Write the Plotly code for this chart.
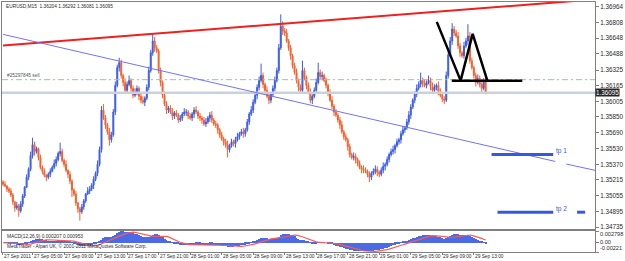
import plotly.graph_objects as go
import pandas as pd

# ---------------- data (prices in pips above 1.3000, 1 pip = 0.0001) ----------------
close_pips = [
    517, 515, 512, 510, 506, 499, 493, 495, 490, 497,
    505, 514, 524, 532, 546, 557, 550, 553, 544, 534,
    530, 526, 524, 527, 530, 534, 538, 542, 548, 550,
    541, 537, 531, 527, 520, 511, 507, 498, 492, 489,
    494, 500, 507, 510, 512, 516, 522, 528, 537, 552,
    592, 584, 577, 570, 562, 567, 590, 617, 635, 640,
    627, 620, 612, 618, 622, 614, 607, 610, 614, 606,
    602, 600, 604, 615, 632, 650, 662, 655, 652, 632,
    620, 607, 598, 592, 594, 590, 586, 589, 587, 582,
    584, 588, 590, 590, 586, 584, 588, 592, 590, 586,
    584, 582, 578, 580, 584, 587, 582, 578, 577, 572,
    567, 563, 560, 557, 552, 556, 560, 558, 562, 565,
    568, 570, 568, 572, 580, 588, 592, 600, 607, 615,
    622, 627, 618, 612, 606, 602, 608, 614, 622, 632,
    655, 677, 672, 670, 662, 655, 647, 637, 630, 622,
    615, 612, 632, 625, 617, 610, 602, 606, 612, 620,
    630, 626, 627, 622, 617, 610, 602, 596, 590, 587,
    582, 577, 570, 565, 562, 555, 547, 544, 545, 542,
    538, 534, 532, 531, 530, 527, 524, 528, 530, 532,
    529, 527, 531, 535, 537, 542, 547, 550, 552, 556,
    560, 562, 568, 572, 574, 580, 587, 595, 602, 608,
    614, 618, 622, 619, 617, 620, 622, 616, 612, 615,
    617, 611, 607, 603, 602, 627, 648, 662, 674, 670,
    667, 657, 650, 647, 657, 662, 667, 642, 635, 627,
    620, 624, 618, 614, 620.4, 609.5,
]
open_pips = [
    519, 517, 515, 512, 510, 506, 499, 493, 495, 490,
    497, 505, 514, 524, 532, 546, 557, 550, 553, 544,
    534, 530, 526, 524, 527, 530, 534, 538, 542, 548,
    550, 541, 537, 531, 527, 520, 511, 507, 498, 492,
    489, 494, 500, 507, 510, 512, 516, 522, 528, 537,
    552, 592, 584, 577, 570, 562, 567, 590, 617, 635,
    640, 627, 620, 612, 618, 622, 614, 607, 610, 614,
    606, 602, 600, 604, 615, 632, 650, 662, 655, 652,
    632, 620, 607, 598, 592, 594, 590, 586, 589, 587,
    582, 584, 588, 590, 590, 586, 584, 588, 592, 590,
    586, 584, 582, 578, 580, 584, 587, 582, 578, 577,
    572, 567, 563, 560, 557, 552, 556, 560, 558, 562,
    565, 568, 570, 568, 572, 580, 588, 592, 600, 607,
    615, 622, 627, 618, 612, 606, 602, 608, 614, 622,
    632, 655, 677, 672, 670, 662, 655, 647, 637, 630,
    622, 615, 612, 632, 625, 617, 610, 602, 606, 612,
    620, 630, 626, 627, 622, 617, 610, 602, 596, 590,
    587, 582, 577, 570, 565, 562, 555, 547, 544, 545,
    542, 538, 534, 532, 531, 530, 527, 524, 528, 530,
    532, 529, 527, 531, 535, 537, 542, 547, 550, 552,
    556, 560, 562, 568, 572, 574, 580, 587, 595, 602,
    608, 614, 618, 622, 619, 617, 620, 622, 616, 612,
    615, 617, 611, 607, 603, 602, 627, 648, 662, 674,
    670, 667, 657, 650, 647, 657, 662, 667, 642, 635,
    627, 620, 624, 618, 614, 620.4,
]
upper_wick_pips = [
    2, 3, 1, 2, 3, 2, 1, 4, 2, 3,
    2, 1, 3, 2, 4, 7, 3, 2, 1, 3,
    2, 3, 1, 2, 3, 2, 4, 3, 2, 9,
    3, 2, 4, 1, 3, 2, 2, 3, 1, 2,
    3, 2, 1, 4, 3, 2, 3, 2, 4, 3,
    4, 6, 3, 2, 4, 3, 3, 4, 3, 5,
    3, 2, 4, 3, 5, 2, 3, 4, 3, 2,
    3, 4, 2, 3, 4, 3, 7, 4, 3, 2,
    3, 2, 4, 3, 2, 3, 4, 2, 3, 2,
    3, 2, 4, 3, 2, 3, 2, 3, 4, 2,
    3, 2, 3, 4, 2, 3, 4, 2, 3, 2,
    2, 3, 2, 3, 4, 2, 3, 2, 3, 4,
    2, 3, 4, 2, 3, 2, 4, 3, 2, 3,
    4, 12, 3, 2, 4, 3, 2, 3, 4, 3,
    4, 12, 5, 3, 4, 2, 3, 2, 3, 4,
    2, 3, 10, 3, 2, 3, 4, 2, 3, 4,
    10, 3, 4, 2, 3, 2, 3, 4, 2, 3,
    2, 3, 4, 2, 3, 2, 3, 2, 4, 3,
    2, 3, 2, 4, 3, 2, 3, 2, 3, 4,
    3, 2, 3, 4, 2, 3, 2, 3, 4, 2,
    3, 2, 3, 4, 2, 3, 4, 3, 2, 3,
    4, 3, 8, 3, 4, 2, 5, 3, 4, 3,
    2, 4, 3, 2, 3, 4, 3, 4, 6, 3,
    3, 4, 3, 2, 4, 3, 12, 4, 3, 2,
    3, 4, 3, 2, 4, 8.8,
]
lower_wick_pips = [
    2, 1, 3, 2, 2, 3, 4, 2, 6, 2,
    3, 2, 1, 3, 2, 3, 4, 2, 3, 2,
    3, 2, 4, 2, 3, 1, 2, 3, 2, 3,
    2, 3, 2, 4, 3, 7, 2, 3, 4, 9,
    2, 3, 2, 1, 3, 2, 4, 2, 3, 2,
    3, 2, 4, 3, 6, 3, 2, 3, 2, 4,
    3, 4, 2, 3, 2, 4, 3, 2, 3, 4,
    3, 2, 4, 2, 3, 2, 3, 4, 2, 3,
    4, 3, 2, 4, 3, 2, 4, 3, 2, 3,
    2, 3, 2, 4, 3, 2, 3, 4, 2, 3,
    3, 4, 2, 3, 2, 4, 3, 2, 3, 4,
    3, 2, 4, 3, 8, 3, 2, 3, 4, 2,
    3, 2, 4, 3, 2, 3, 2, 3, 2, 4,
    3, 2, 4, 3, 2, 4, 3, 2, 3, 2,
    3, 2, 4, 3, 2, 3, 4, 3, 2, 3,
    4, 3, 2, 3, 4, 2, 3, 4, 2, 3,
    2, 3, 4, 2, 3, 4, 2, 3, 4, 2,
    3, 4, 2, 3, 2, 4, 3, 2, 3, 4,
    3, 2, 4, 3, 2, 3, 5, 3, 2, 3,
    4, 3, 2, 3, 4, 2, 3, 2, 3, 4,
    2, 3, 4, 2, 3, 2, 3, 4, 2, 3,
    3, 2, 3, 4, 2, 3, 2, 4, 3, 2,
    3, 4, 2, 3, 4, 2, 3, 2, 4, 3,
    2, 3, 4, 2, 3, 2, 4, 3, 2, 3,
    4, 2, 3, 4, 2, 1.4,
]

# axis labels
price_ticks = [1.36964, 1.36808, 1.36648, 1.36488, 1.36325, 1.36165, 1.36005, 1.35850,
               1.35690, 1.35530, 1.35370, 1.35215, 1.35055, 1.34895, 1.34735]
macd_ticks = [0.002798, 0.0, -0.00221]
macd_ticktext = ["0.002798", "0.00", "-0.00221"]
time_tick_bars = [0, 15, 31, 47, 63, 79, 95, 111, 127, 143, 159, 175, 191, 207, 223, 239]
time_tick_text = ["27 Sep 2011", "27 Sep 05:00", "27 Sep 09:00", "27 Sep 13:00", "27 Sep 17:00",
                  "27 Sep 21:00", "28 Sep 01:00", "28 Sep 05:00", "28 Sep 09:00", "28 Sep 13:00",
                  "28 Sep 17:00", "28 Sep 21:00", "29 Sep 01:00", "29 Sep 05:00", "29 Sep 09:00",
                  "29 Sep 13:00"]

# drawn objects (bar index, price)
red_trend_bars = [0, 300]
red_trend_prices = [1.36573, 1.37040]
blue_trend_bars = [0, 280.3, None, 285.9, 300.5]
blue_trend_prices = [1.36687, 1.35400, None, 1.35374, 1.35310]
black_v_bars = [220.2, 232.3, 238.4, 246.0]
black_v_prices = [1.36813, 1.36218, 1.36692, 1.36208]
black_neck_bars = [227.8, 263.6]
black_neck_prices = [1.36218, 1.36218]
tp1_bars = [248.0, 279.3]
tp1_price = 1.35471
tp2_bars = [251.0, 279.3, None, 291.4, 295.5]
tp2_price = 1.34886
order_price = 1.36228
order_label = "#25297845 sell"
bid_price = 1.36095
title_text = "EURUSD,M15  1.36204 1.36292 1.36081 1.36095"
macd_label = "MACD(12,26,9) 0.000207 0.000953"
copyright_text = "MetaTrader - Alpari UK, \u00a9 2001-2011 MetaQuotes Software Corp."

# ---------------- derived series ----------------
BASE, PIP = 1.30, 0.0001
bars = list(range(len(close_pips)))
opens = [BASE + v * PIP for v in open_pips]
closes = [BASE + v * PIP for v in close_pips]
highs = [BASE + (max(o, c) + u) * PIP for o, c, u in zip(open_pips, close_pips, upper_wick_pips)]
lows = [BASE + (min(o, c) - l) * PIP for o, c, l in zip(open_pips, close_pips, lower_wick_pips)]

s = pd.Series(closes)
macd_main = s.ewm(span=12, adjust=False).mean() - s.ewm(span=26, adjust=False).mean()
macd_signal = macd_main.rolling(9, min_periods=1).mean()

UP, DN = "#3a5ce8", "#f4612c"
FONT = "Liberation Sans"
XR = [-0.505, 300.5]
TXT = "#2a2a2a"

fig = go.Figure()
fig.add_trace(go.Candlestick(
    x=bars, open=opens, high=highs, low=lows, close=closes,
    increasing=dict(line=dict(color=UP, width=1), fillcolor=UP),
    decreasing=dict(line=dict(color=DN, width=1), fillcolor=DN),
    whiskerwidth=0, showlegend=False, hoverinfo="skip", xaxis="x", yaxis="y"))

# horizontal lines
fig.add_trace(go.Scatter(x=XR, y=[bid_price, bid_price], mode="lines",
                         line=dict(color="#c9d1df", width=2.5), showlegend=False, hoverinfo="skip"))
fig.add_trace(go.Scatter(x=XR, y=[order_price, order_price], mode="lines",
                         line=dict(color="#8fd08f", width=1, dash="6px,3px,2px,3px"),
                         showlegend=False, hoverinfo="skip"))
# trend lines
fig.add_trace(go.Scatter(x=red_trend_bars, y=red_trend_prices, mode="lines",
                         line=dict(color="#ee2020", width=2), showlegend=False, hoverinfo="skip"))
fig.add_trace(go.Scatter(x=blue_trend_bars, y=blue_trend_prices, mode="lines",
                         line=dict(color="#7474f0", width=1), showlegend=False, hoverinfo="skip"))
fig.add_trace(go.Scatter(x=black_v_bars, y=black_v_prices, mode="lines",
                         line=dict(color="#000000", width=2.5), showlegend=False, hoverinfo="skip"))
fig.add_trace(go.Scatter(x=black_neck_bars, y=black_neck_prices, mode="lines",
                         line=dict(color="#000000", width=2.5), showlegend=False, hoverinfo="skip"))
fig.add_trace(go.Scatter(x=tp1_bars, y=[tp1_price] * len(tp1_bars), mode="lines",
                         line=dict(color="#3558e0", width=3), showlegend=False, hoverinfo="skip"))
fig.add_trace(go.Scatter(x=tp2_bars, y=[tp2_price if b is not None else None for b in tp2_bars],
                         mode="lines", line=dict(color="#3558e0", width=3), showlegend=False,
                         hoverinfo="skip"))

# MACD panel
fig.add_trace(go.Bar(x=bars, y=macd_main, width=0.55, marker=dict(color="#4a6ae6", line=dict(width=0)),
                     showlegend=False, hoverinfo="skip", xaxis="x2", yaxis="y2"))
fig.add_trace(go.Scatter(x=bars, y=macd_signal, mode="lines", line=dict(color="#ff5a5a", width=1.2),
                         showlegend=False, hoverinfo="skip", xaxis="x2", yaxis="y2"))

axis_line = "#7f7f7f"
tickfont = dict(family=FONT, size=6.3, color=TXT)
small = dict(family=FONT, size=4.8, color=TXT)

annotations = []
for b, t in zip(time_tick_bars, time_tick_text):
    annotations.append(dict(x=b, xref="x2", y=-0.016, yref="paper", text=t, showarrow=False,
                            xanchor="left", yanchor="middle", xshift=-1, font=small))
# MACD scale labels (MT4 keeps them inside the panel)
macd_label_y = [0.074, 0.041, 0.016]
for t, yy in zip(macd_ticktext, macd_label_y):
    annotations.append(dict(x=1, xref="paper", y=yy, yref="paper", text=t, showarrow=False,
                            xanchor="left", yanchor="middle", xshift=3,
                            font=dict(family=FONT, size=5.6, color=TXT)))
annotations += [
    dict(x=0, xref="paper", y=0.984, yref="paper", text=title_text, showarrow=False,
         xanchor="left", yanchor="middle", xshift=2, font=small),
    dict(x=0, xref="x", y=order_price, yref="y", text=order_label, showarrow=False,
         xanchor="left", yanchor="bottom", xshift=2, yshift=0, font=dict(family=FONT, size=4.8, color="#555555")),
    dict(x=1, xref="paper", y=bid_price, yref="y", text=f"{bid_price:.5f}", showarrow=False,
         xanchor="left", yanchor="middle", bgcolor="#262626", borderpad=0,
         font=dict(family=FONT, size=6.3, color="#ffffff")),
    dict(x=tp1_bars[-1], xref="x", y=tp1_price, yref="y", text="tp 1", showarrow=False,
         xanchor="left", yanchor="bottom", xshift=1, yshift=-3, font=dict(family=FONT, size=6.5, color="#3558e0")),
    dict(x=tp1_bars[-1], xref="x", y=tp2_price, yref="y", text="tp 2", showarrow=False,
         xanchor="left", yanchor="bottom", xshift=1, yshift=-3, font=dict(family=FONT, size=6.5, color="#3558e0")),
    dict(x=0, xref="paper", y=0.064, yref="paper", text=macd_label, showarrow=False,
         xanchor="left", yanchor="middle", xshift=3, font=small),
    dict(x=0, xref="paper", y=0.024, yref="paper", text=copyright_text, showarrow=False,
         xanchor="left", yanchor="middle", xshift=3, font=small),
]

fig.update_layout(
    width=625, height=261, margin=dict(l=1, r=28, t=1, b=9),
    paper_bgcolor="white", plot_bgcolor="white", showlegend=False, bargap=0,
    xaxis=dict(domain=[0, 1], range=XR, anchor="y", showticklabels=False, showgrid=False,
               zeroline=False, showline=True, mirror=True, linecolor=axis_line, linewidth=1,
               rangeslider=dict(visible=False), ticks=""),
    yaxis=dict(domain=[0.0916, 1], range=[1.347148, 1.370144], side="right", anchor="x",
               tickvals=price_ticks, ticktext=[f"{p:.5f}" for p in price_ticks],
               ticks="outside", ticklen=3, tickcolor=axis_line, tickfont=tickfont,
               showgrid=False, zeroline=False, showline=True, mirror=True, linecolor=axis_line, linewidth=1),
    xaxis2=dict(domain=[0, 1], range=XR, anchor="y2", showticklabels=False, showgrid=False,
                zeroline=False, showline=True, mirror=True, linecolor=axis_line, linewidth=1,
                tickvals=time_tick_bars, ticks="outside", ticklen=2, tickcolor=axis_line),
    yaxis2=dict(domain=[0, 0.0837], range=[-0.00221, 0.002798], side="right", anchor="x2",
                tickvals=macd_ticks, showticklabels=False, ticks="outside", ticklen=3,
                tickcolor=axis_line, showgrid=False, zeroline=False, showline=True, mirror=True,
                linecolor=axis_line, linewidth=1),
    annotations=annotations,
)

fig.write_html("out.html")
